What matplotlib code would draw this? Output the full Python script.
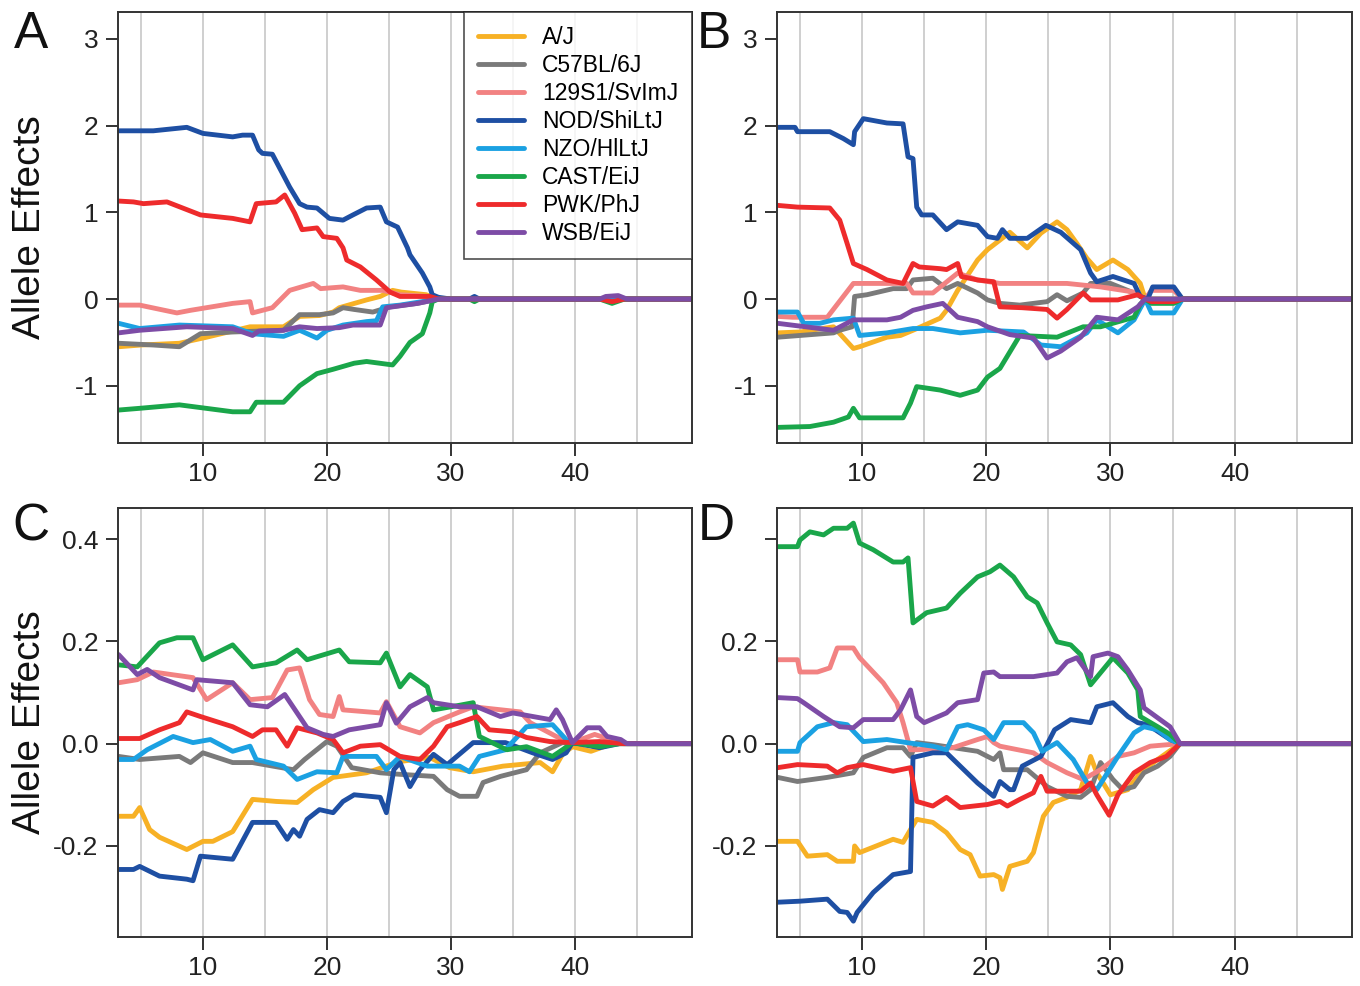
import matplotlib
matplotlib.use('Agg')
import matplotlib.pyplot as plt

plt.rcParams['font.family'] = ['Liberation Sans', 'DejaVu Sans']

strains = ['A/J', 'C57BL/6J', '129S1/SvImJ', 'NOD/ShiLtJ', 'NZO/HlLtJ', 'CAST/EiJ', 'PWK/PhJ', 'WSB/EiJ']
colors = ['#F7B125', '#7A7A7A', '#F28282', '#1E4FA3', '#1BA1E2', '#1AA64A', '#EE2B2C', '#7D4CA6']

# panel A  (x, effect) points
a_aj = [(3.2,-0.55),(5,-0.53),(8.1,-0.51),(10.3,-0.44),(13.8,-0.32),(16.5,-0.32),(17.8,-0.2),(19.4,-0.19),(20.5,-0.15),(21,-0.1),(23.2,-0.01),(24.3,0.03),(25.3,0.1),(26,0.08),(28,0.05),(29,0),(49.4,0)]
a_b6 = [(3.2,-0.51),(6,-0.53),(8.1,-0.55),(9.8,-0.4),(12.4,-0.38),(16.5,-0.36),(17.8,-0.18),(19.4,-0.18),(20.5,-0.16),(21.3,-0.1),(22.2,-0.12),(23.7,-0.15),(25.1,-0.09),(27.3,-0.05),(29,0),(49.4,0)]
a_129 = [(3.2,-0.07),(4.9,-0.07),(7.9,-0.16),(9,-0.13),(12.4,-0.05),(13.8,-0.03),(14,-0.16),(15.6,-0.1),(17,0.1),(18.9,0.18),(19.5,0.12),(21.3,0.14),(22.7,0.1),(24.5,0.1),(25.9,0.05),(28.1,0.03),(29,0),(49.4,0)]
a_nod = [(3.2,1.94),(6,1.94),(8.7,1.98),(10,1.91),(12.4,1.87),(13.2,1.89),(14,1.89),(14.5,1.72),(14.8,1.68),(15.6,1.67),(17,1.29),(17.8,1.1),(18.4,1.06),(19.2,1.05),(20.2,0.93),(21.3,0.91),(22.1,0.97),(23.2,1.05),(24.3,1.06),(24.8,0.89),(25.7,0.83),(26.5,0.59),(26.7,0.51),(27.7,0.3),(28.3,0.14),(28.5,0.05),(29,0.02),(30,0),(31.5,0),(31.9,0.03),(32.3,0),(42,0),(43,0.02),(44,0),(49.4,0)]
a_nzo = [(3.2,-0.28),(4.9,-0.34),(8.1,-0.3),(12.4,-0.32),(14,-0.4),(16.5,-0.43),(17.8,-0.36),(19.2,-0.45),(20,-0.36),(21.3,-0.3),(23.2,-0.26),(24,-0.25),(24.5,-0.09),(25.9,-0.07),(28.1,-0.02),(29,0),(49.4,0)]
a_cast = [(3.2,-1.28),(4.9,-1.26),(8.1,-1.22),(12.4,-1.3),(13.8,-1.3),(14.3,-1.19),(16.5,-1.19),(17.8,-1.0),(19.2,-0.86),(20.5,-0.81),(22.2,-0.74),(23.2,-0.72),(25.3,-0.76),(25.9,-0.66),(26.7,-0.5),(27.7,-0.4),(28.3,-0.16),(28.5,-0.03),(29,0),(31.5,0),(31.9,-0.03),(32.3,0),(42,0),(43,-0.05),(44,0),(49.4,0)]
a_pwk = [(3.2,1.13),(4.4,1.12),(5.2,1.1),(7.1,1.12),(9.8,0.97),(12.4,0.93),(13.8,0.89),(14.3,1.1),(15.9,1.12),(16.6,1.2),(17.4,0.99),(18,0.8),(19.2,0.82),(19.7,0.72),(20.8,0.7),(21.3,0.59),(21.6,0.45),(22.7,0.37),(24,0.22),(25.1,0.08),(25.9,0.03),(28.3,0.03),(29,0),(42,0),(43,-0.03),(44,0),(49.4,0)]
a_wsb = [(3.2,-0.39),(4.9,-0.36),(8.7,-0.32),(12.4,-0.34),(14,-0.42),(14.5,-0.37),(16.5,-0.36),(17.8,-0.32),(19.2,-0.34),(21,-0.33),(22.1,-0.3),(24.3,-0.3),(24.8,-0.1),(27.3,-0.05),(29,0),(42,0),(42.5,0.03),(43.5,0.04),(44.2,0),(49.4,0)]

# panel B
b_aj = [(3.2,-0.39),(5,-0.38),(7.7,-0.32),(9.3,-0.57),(9.8,-0.55),(12,-0.44),(13.1,-0.42),(14.1,-0.36),(16.3,-0.22),(16.8,-0.13),(17.7,0.1),(19.3,0.45),(20.1,0.57),(21.1,0.68),(21.9,0.77),(23.3,0.59),(24.4,0.76),(25.7,0.89),(26.5,0.8),(27.3,0.64),(28.1,0.47),(28.9,0.34),(30.2,0.45),(31.4,0.34),(32.4,0.18),(32.8,0),(49.4,0)]
b_b6 = [(3.2,-0.44),(7.7,-0.39),(8.2,-0.36),(9.2,-0.32),(9.4,0.03),(10.4,0.05),(12.5,0.12),(13.6,0.12),(14.1,0.22),(15.7,0.24),(16.8,0.12),(17.7,0.18),(19.3,0.07),(20.1,-0.01),(21.1,-0.05),(22.7,-0.07),(24.9,-0.03),(25.7,0.05),(26.5,-0.02),(27.8,0.07),(28.4,0.18),(30,0.18),(31.9,0.07),(32.8,0),(49.4,0)]
b_129 = [(3.2,-0.2),(4.4,-0.21),(7.2,-0.21),(9.3,0.18),(13.6,0.18),(14.1,0.07),(15.7,0.07),(17.7,0.3),(19.3,0.22),(21.1,0.18),(26.5,0.18),(29.2,0.14),(31.9,0.08),(32.8,0),(33.3,0.1),(35.1,0.1),(35.8,0),(49.4,0)]
b_nod = [(3.2,1.98),(4.6,1.98),(4.8,1.93),(7.4,1.93),(8.5,1.85),(9.3,1.78),(9.4,1.93),(10.1,2.08),(12,2.03),(13.3,2.02),(13.7,1.64),(14.1,1.62),(14.4,1.06),(14.8,0.97),(15.7,0.97),(16.8,0.8),(17.7,0.89),(19.3,0.85),(20.1,0.72),(20.9,0.7),(21.3,0.8),(21.9,0.7),(23.3,0.7),(24.8,0.85),(26,0.77),(27.6,0.57),(28.4,0.3),(28.9,0.2),(30.2,0.26),(31.9,0.18),(32.4,0.03),(33,0),(33.4,0.14),(35.1,0.14),(35.8,0),(49.4,0)]
b_nzo = [(3.2,-0.15),(4.8,-0.15),(5.3,-0.28),(6.6,-0.28),(7.7,-0.24),(9.3,-0.22),(9.8,-0.42),(12,-0.39),(14.1,-0.34),(15.7,-0.34),(17.9,-0.39),(20.1,-0.36),(23,-0.38),(24.4,-0.53),(26,-0.55),(28.1,-0.39),(28.9,-0.24),(30.6,-0.39),(31.9,-0.24),(32.8,0),(33.3,-0.16),(35.1,-0.16),(35.8,0),(49.4,0)]
b_cast = [(3.2,-1.48),(5.8,-1.47),(7.7,-1.42),(8.9,-1.36),(9.3,-1.26),(9.8,-1.37),(13.3,-1.37),(13.9,-1.2),(14.4,-1.01),(16.3,-1.05),(17.9,-1.11),(19.3,-1.05),(20.1,-0.9),(21.1,-0.8),(22.7,-0.42),(25.7,-0.44),(27.8,-0.32),(29.2,-0.32),(31.9,-0.21),(32.4,-0.06),(32.8,0),(33.3,-0.05),(35.1,-0.05),(35.8,0),(49.4,0)]
b_pwk = [(3.2,1.08),(4.8,1.06),(7.4,1.05),(8.2,0.91),(8.8,0.64),(9.3,0.41),(10.4,0.34),(12,0.22),(13.3,0.18),(14.1,0.41),(14.6,0.37),(16.3,0.35),(16.8,0.34),(17.7,0.41),(18,0.26),(19.3,0.22),(20.6,0.2),(21.1,-0.09),(22.9,-0.1),(24.9,-0.12),(25.7,-0.22),(26.5,-0.12),(27.8,0.07),(28.4,-0.01),(30.6,-0.01),(32.2,0.05),(32.8,0),(33.3,-0.03),(35.1,-0.03),(35.8,0),(49.4,0)]
b_wsb = [(3.2,-0.28),(7.7,-0.36),(9.3,-0.24),(12,-0.24),(13.1,-0.21),(14.1,-0.13),(15.2,-0.09),(16.5,-0.05),(17.7,-0.21),(19.3,-0.26),(20.1,-0.32),(21.9,-0.41),(23.8,-0.45),(24.9,-0.68),(26,-0.6),(27.6,-0.44),(28.9,-0.21),(30.6,-0.24),(32.2,-0.09),(32.8,0),(49.4,0)]

# panel C
c_aj = [(3.2,-0.142),(4.4,-0.142),(4.9,-0.125),(5.7,-0.168),(6.5,-0.183),(8.7,-0.207),(10,-0.191),(10.8,-0.191),(12.4,-0.172),(14,-0.109),(15.9,-0.113),(17.6,-0.115),(18.9,-0.09),(20.5,-0.066),(23.2,-0.057),(25.9,-0.035),(28.3,-0.027),(29.9,-0.047),(31.8,-0.055),(34.2,-0.044),(37.2,-0.037),(38.2,-0.055),(39,-0.021),(39.8,-0.006),(41.3,-0.015),(43,0),(49.4,0)]
c_b6 = [(3.2,-0.025),(4.9,-0.031),(8.1,-0.025),(9,-0.037),(10,-0.018),(12.4,-0.037),(14,-0.037),(17.3,-0.051),(18.2,-0.031),(20,0.004),(20.8,-0.005),(22,-0.047),(24.3,-0.057),(25.9,-0.06),(28.6,-0.064),(29.7,-0.09),(30.7,-0.103),(32.1,-0.103),(32.6,-0.076),(34,-0.064),(36.1,-0.051),(37.2,-0.018),(39,0.002),(40,0),(49.4,0)]
c_129 = [(3.2,0.119),(4.7,0.125),(6,0.14),(9.2,0.129),(10.3,0.086),(12.4,0.119),(13.8,0.086),(15.6,0.09),(16.8,0.144),(17.8,0.148),(18.6,0.086),(19.4,0.057),(20.5,0.053),(21,0.092),(21.3,0.066),(24.3,0.06),(24.8,0.082),(25.9,0.033),(27.5,0.021),(28.6,0.041),(30.7,0.062),(31.8,0.072),(35.6,0.062),(36.4,0.041),(38.5,0.014),(39.8,0.002),(41.6,0.018),(42.6,0.01),(44,0),(49.4,0)]
c_nod = [(3.2,-0.246),(4.4,-0.246),(4.9,-0.24),(6.5,-0.259),(8.7,-0.265),(9.2,-0.268),(9.8,-0.22),(12.4,-0.226),(14,-0.154),(15.9,-0.154),(16.8,-0.187),(17.3,-0.168),(17.8,-0.181),(18.4,-0.148),(19.4,-0.129),(20.5,-0.135),(21.3,-0.113),(22.2,-0.1),(24.3,-0.105),(24.8,-0.135),(25.4,-0.051),(25.9,-0.037),(26.7,-0.084),(27.5,-0.051),(28.6,-0.021),(29.7,-0.041),(31.8,0.002),(34.4,0.002),(36.6,-0.018),(38.2,-0.031),(39.3,-0.018),(39.8,0.002),(42,-0.008),(43.6,0),(49.4,0)]
c_nzo = [(3.2,-0.031),(4.4,-0.031),(5.5,-0.012),(7.6,0.014),(9.2,0.002),(10.6,0.008),(12.4,-0.015),(13.8,-0.005),(14.3,-0.031),(16.5,-0.044),(17.6,-0.07),(19.2,-0.055),(20.8,-0.057),(21.3,-0.025),(24,-0.025),(24.8,-0.051),(25.9,-0.025),(28.1,-0.044),(30.7,-0.044),(31.5,-0.055),(32.3,-0.025),(34.4,-0.012),(36.1,0.033),(38.2,0.037),(39.3,0.008),(39.8,0.002),(42,0.002),(43,0),(49.4,0)]
c_cast = [(3.2,0.154),(4.7,0.15),(6.5,0.197),(7.9,0.207),(9.2,0.207),(10,0.164),(12.4,0.193),(14,0.15),(15.9,0.158),(17.6,0.183),(18.4,0.164),(21,0.183),(21.8,0.16),(24.3,0.158),(24.8,0.177),(25.9,0.111),(26.7,0.135),(28.1,0.111),(28.6,0.066),(30.7,0.075),(31.8,0.08),(32.3,0.014),(34.5,-0.012),(36.1,-0.006),(38.2,-0.025),(39,-0.012),(39.8,0.002),(42,-0.006),(43.6,0),(49.4,0)]
c_pwk = [(3.2,0.01),(4.9,0.01),(6.5,0.027),(8.1,0.041),(8.7,0.062),(9.8,0.053),(12.4,0.033),(14,0.014),(14.8,0.027),(15.9,0.027),(16.8,-0.005),(17.6,0.031),(19.2,0.021),(20.5,0.008),(21.3,-0.018),(22.7,-0.005),(24.3,-0.002),(25.9,-0.025),(27.5,-0.031),(28.6,-0.005),(29.7,0.033),(30.7,0.041),(32.1,0.053),(33.1,0.027),(35,0.023),(36.1,0.012),(38,0.004),(39.8,0.002),(42,0.004),(43.9,0),(49.4,0)]
c_wsb = [(3.2,0.174),(4.7,0.135),(5.5,0.145),(6.5,0.129),(9.2,0.105),(9.5,0.125),(12.4,0.119),(13.8,0.076),(15.2,0.072),(16.6,0.096),(18.4,0.031),(19.7,0.018),(20.5,0.014),(21.8,0.027),(24.3,0.037),(24.8,0.08),(25.6,0.04),(26.7,0.072),(28.1,0.09),(28.6,0.08),(30.7,0.072),(32.1,0.072),(34,0.053),(35,0.06),(38,0.047),(38.5,0.066),(39,0.047),(39.8,0.002),(41,0.031),(42,0.031),(42.6,0.014),(43.7,0.008),(44.2,0),(49.4,0)]

# panel D
d_aj = [(3.2,-0.191),(4.8,-0.191),(5.6,-0.22),(7.2,-0.217),(8,-0.23),(9.3,-0.23),(9.4,-0.2),(9.8,-0.213),(12.5,-0.187),(13.3,-0.193),(13.9,-0.168),(14.4,-0.148),(15.7,-0.154),(16.8,-0.174),(17.9,-0.207),(18.7,-0.217),(19.5,-0.259),(20.6,-0.256),(21.1,-0.262),(21.3,-0.285),(21.9,-0.24),(23.3,-0.23),(23.8,-0.213),(24.6,-0.142),(25.4,-0.115),(26.5,-0.105),(27.6,-0.09),(28.4,-0.025),(28.9,-0.057),(30,-0.1),(31.4,-0.09),(32.4,-0.057),(33.8,-0.031),(35.6,0),(49.4,0)]
d_b6 = [(3.2,-0.066),(4.8,-0.074),(7.2,-0.066),(9.3,-0.057),(10.1,-0.027),(12,-0.008),(13.3,-0.008),(13.9,-0.025),(14.4,0.002),(15.7,-0.002),(19.3,-0.015),(20.1,-0.025),(20.6,-0.031),(21.1,-0.018),(21.4,-0.051),(23.3,-0.051),(24.9,-0.084),(26.5,-0.103),(27.6,-0.105),(28.4,-0.09),(29.2,-0.037),(30.2,-0.07),(31,-0.09),(31.9,-0.084),(32.7,-0.057),(33.8,-0.044),(34.8,-0.025),(35.6,0),(49.4,0)]
d_129 = [(3.2,0.164),(4.8,0.164),(5,0.14),(6.4,0.14),(7.4,0.148),(8,0.187),(9.3,0.187),(9.8,0.168),(11.7,0.119),(12.8,0.08),(13.3,0.041),(13.9,-0.012),(14.4,-0.012),(17.3,-0.008),(19.3,0.008),(20.1,0.014),(20.6,0.002),(21.1,-0.005),(23.8,-0.018),(24.9,-0.037),(26.5,-0.057),(27.8,-0.07),(29.2,-0.051),(30.6,-0.025),(31.9,-0.018),(33.2,-0.005),(35.6,0),(49.4,0)]
d_nod = [(3.2,-0.31),(5,-0.308),(7.2,-0.304),(8.2,-0.328),(8.8,-0.33),(9.3,-0.347),(9.6,-0.33),(10.9,-0.291),(12.5,-0.256),(13.9,-0.25),(14.1,-0.027),(15.7,-0.018),(16.8,-0.018),(17.9,-0.044),(19.3,-0.077),(20.6,-0.103),(21.1,-0.074),(21.9,-0.09),(22.2,-0.09),(22.9,-0.044),(24.4,-0.025),(25.5,0.027),(26.8,0.047),(28.4,0.041),(28.9,0.072),(30.2,0.08),(31.4,0.053),(32.2,0.041),(33,0.037),(34.8,0.008),(35.6,0),(49.4,0)]
d_nzo = [(3.2,-0.015),(4.8,-0.015),(5,0.002),(6.4,0.033),(7.7,0.041),(8.8,0.037),(10.1,0.004),(12,0.008),(13.6,0.002),(15.7,-0.005),(16.8,-0.012),(17.7,0.033),(18.5,0.037),(19.8,0.027),(20.6,0.008),(21.4,0.041),(23,0.041),(23.8,0.021),(24.5,-0.015),(25.7,0.002),(27,-0.031),(28.1,-0.076),(28.9,-0.09),(30.6,-0.025),(31.9,0.021),(32.7,0.033),(33.8,0.027),(34.8,0.008),(35.6,0),(49.4,0)]
d_cast = [(3.2,0.385),(4.8,0.385),(5,0.398),(5.8,0.414),(6.9,0.408),(7.7,0.421),(8.8,0.421),(9.3,0.431),(9.8,0.392),(10.9,0.379),(12.5,0.355),(13.3,0.355),(13.7,0.363),(14.1,0.236),(15.2,0.256),(16.8,0.265),(17.9,0.294),(19.3,0.326),(20.3,0.336),(21.1,0.349),(22.2,0.326),(23.3,0.287),(24.1,0.275),(24.9,0.236),(25.7,0.199),(26.8,0.193),(27.6,0.174),(28.4,0.115),(30.2,0.168),(31.4,0.138),(32.2,0.105),(32.4,0.053),(33.8,0.033),(34.8,0.018),(35.6,0),(49.4,0)]
d_pwk = [(3.2,-0.047),(4.8,-0.041),(7.2,-0.044),(8,-0.057),(8.8,-0.047),(10.1,-0.041),(12.5,-0.054),(13.9,-0.047),(14.4,-0.113),(15.7,-0.122),(16.8,-0.105),(17.9,-0.125),(20.1,-0.119),(21.1,-0.113),(21.7,-0.122),(22.7,-0.109),(23.8,-0.096),(24.4,-0.064),(24.9,-0.093),(27.6,-0.093),(28.4,-0.077),(28.9,-0.1),(29.9,-0.14),(30.6,-0.1),(31.9,-0.057),(33.2,-0.037),(34.5,-0.025),(35.6,0),(49.4,0)]
d_wsb = [(3.2,0.09),(4.8,0.088),(5.3,0.08),(6.9,0.053),(8.2,0.033),(9.3,0.031),(10.1,0.047),(12.5,0.047),(13.1,0.066),(13.9,0.105),(14.4,0.053),(15,0.041),(16.8,0.06),(17.7,0.08),(19.3,0.086),(19.8,0.138),(20.6,0.14),(21.1,0.131),(23.8,0.131),(25.7,0.138),(26.5,0.16),(27.3,0.168),(28.4,0.131),(28.6,0.17),(29.8,0.177),(30.6,0.17),(31.4,0.144),(32.4,0.105),(32.7,0.07),(34,0.047),(34.8,0.033),(35.6,0),(49.4,0)]

panelA = [a_aj, a_b6, a_129, a_nod, a_nzo, a_cast, a_pwk, a_wsb]
panelB = [b_aj, b_b6, b_129, b_nod, b_nzo, b_cast, b_pwk, b_wsb]
panelC = [c_aj, c_b6, c_129, c_nod, c_nzo, c_cast, c_pwk, c_wsb]
panelD = [d_aj, d_b6, d_129, d_nod, d_nzo, d_cast, d_pwk, d_wsb]

big_ticks = [-1, 0, 1, 2, 3]
big_labels = ['-1', '0', '1', '2', '3']
small_ticks = [-0.2, 0.0, 0.2, 0.4]
small_labels = ['-0.2', '0.0', '0.2', '0.4']
small_labels_d = ['-0.2', '0.0', '0.2', '']

fig = plt.figure(figsize=(13.6, 9.86), dpi=100)
W, H = 1360., 986.

def make_ax(left, top, right, bottom):
    return fig.add_axes([left/W, 1-bottom/H, (right-left)/W, (bottom-top)/H])

def draw(ax, series, ylim, yt, yl):
    for v in range(5, 50, 5):
        ax.axvline(v, color='#cfcfcf', lw=1.4, zorder=0)
    for pts, c, name in zip(series, colors, strains):
        xs = [p[0] for p in pts]
        ys = [p[1] for p in pts]
        ax.plot(xs, ys, color=c, lw=3.5, label=name, solid_joinstyle='round', solid_capstyle='round')
    ax.set_xlim(3.15, 49.45)
    ax.set_ylim(ylim)
    ax.set_xticks([10, 20, 30, 40])
    ax.set_yticks(yt)
    ax.set_yticklabels(yl)
    ax.tick_params(direction='out', length=9, width=1.4, labelsize=19, colors='#333333', labelcolor='#222222', pad=5)
    for s in ax.spines.values():
        s.set_linewidth(1.4)
        s.set_color('#333333')

axA = make_ax(118, 12, 692, 443)
axB = make_ax(777, 12, 1352, 443)
axC = make_ax(118, 508, 692, 937)
axD = make_ax(777, 508, 1352, 937)

draw(axA, panelA, (-1.66, 3.31), big_ticks, big_labels)
draw(axB, panelB, (-1.66, 3.31), big_ticks, big_labels)
draw(axC, panelC, (-0.378, 0.4606), small_ticks, small_labels)
draw(axD, panelD, (-0.378, 0.4606), small_ticks, small_labels_d)

leg = axA.legend(loc='upper right', borderaxespad=0, fontsize=16.5, frameon=True, fancybox=False,
                 handlelength=2.0, handletextpad=0.8, labelspacing=0.22, borderpad=0.6)
leg.get_frame().set_edgecolor('#222222')
leg.get_frame().set_linewidth(1.2)
for line in leg.get_lines():
    line.set_linewidth(3.5)

for letter, x, y in [('A', 31, 35), ('B', 714, 35), ('C', 31, 527), ('D', 716, 527)]:
    fig.text(x/W, 1-y/H, letter, fontsize=37, ha='center', va='center', color='#111111')

fig.text(30/W, 1-227/H, 'Allele Effects', rotation=90, fontsize=28, ha='center', va='center', color='#111111')
fig.text(30/W, 1-722/H, 'Allele Effects', rotation=90, fontsize=28, ha='center', va='center', color='#111111')

fig.savefig('out.png', dpi=100)
